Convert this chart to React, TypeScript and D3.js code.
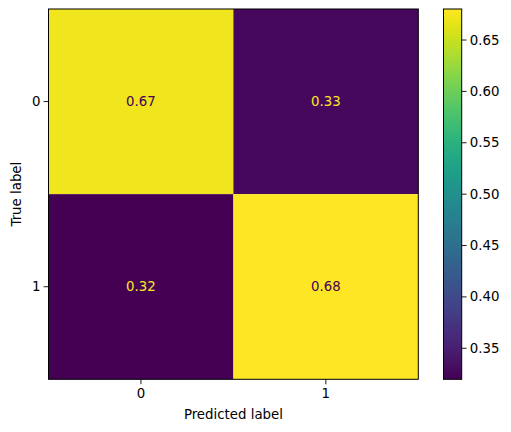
import React from "react";
import * as d3 from "d3";

const classes = ["0", "1"];
const row0 = [0.672, 0.328];
const row1 = [0.3198, 0.6802];
const matrix = [row0, row1];
const cbTicks = [0.35, 0.4, 0.45, 0.5, 0.55, 0.6, 0.65];
const xLabel = "Predicted label";
const yLabel = "True label";

export default function App() {
  const W = 511, H = 432;
  const left = 48.5, right = 418.3, top = 9, bottom = 379.3;
  const cbL = 443.5, cbR = 461.7;
  const all = matrix.flat();
  const vmin = d3.min(all)!;
  const vmax = d3.max(all)!;
  const x = d3.scaleBand().domain(classes).range([left, right]);
  const y = d3.scaleBand().domain(classes).range([top, bottom]);
  const color = (v: number) => d3.interpolateViridis((v - vmin) / (vmax - vmin));
  const cbY = d3.scaleLinear().domain([vmin, vmax]).range([bottom, top]);
  const font = "DejaVu Sans";
  const fs = 13.33;
  const steps = d3.range(0, 101);
  const thr = (vmin + vmax) / 2;
  return (
    <svg width={W} height={H} style={{ position: "absolute", left: 0, top: 0 }} fontFamily={font}>
      <defs>
        <linearGradient id="cbg" x1="0" y1="1" x2="0" y2="0">
          {steps.map((s) => (
            <stop key={s} offset={`${s}%`} stopColor={d3.interpolateViridis(s / 100)} />
          ))}
        </linearGradient>
      </defs>
      <rect width={W} height={H} fill="white" />
      {matrix.map((row, i) =>
        row.map((v, j) => (
          <rect key={`${i}-${j}`} x={x(classes[j])!} y={y(classes[i])!} width={x.bandwidth()} height={y.bandwidth()} fill={color(v)} />
        ))
      )}
      {matrix.map((row, i) =>
        row.map((v, j) => (
          <text key={`t${i}-${j}`} x={x(classes[j])! + x.bandwidth() / 2} y={y(classes[i])! + y.bandwidth() / 2} textAnchor="middle" dominantBaseline="central" fontSize={fs} fill={v < thr ? color(vmax) : color(vmin)}>
            {d3.format(".2f")(v)}
          </text>
        ))
      )}
      <rect x={left} y={top} width={right - left} height={bottom - top} fill="none" stroke="black" strokeWidth={1} />
      {classes.map((c) => (
        <g key={`x${c}`}>
          <line x1={x(c)! + x.bandwidth() / 2} x2={x(c)! + x.bandwidth() / 2} y1={bottom} y2={bottom + 4.9} stroke="black" strokeWidth={0.9} />
          <text x={x(c)! + x.bandwidth() / 2} y={bottom + 9} dominantBaseline="hanging" textAnchor="middle" fontSize={fs} fill="black">{c}</text>
        </g>
      ))}
      {classes.map((c) => (
        <g key={`y${c}`}>
          <line x1={left - 4.9} x2={left} y1={y(c)! + y.bandwidth() / 2} y2={y(c)! + y.bandwidth() / 2} stroke="black" strokeWidth={0.9} />
          <text x={left - 8} y={y(c)! + y.bandwidth() / 2} dominantBaseline="central" textAnchor="end" fontSize={fs} fill="black">{c}</text>
        </g>
      ))}
      <text x={(left + right) / 2} y={419} textAnchor="middle" fontSize={fs} fill="black">{xLabel}</text>
      <text transform={`translate(20.5,${(top + bottom) / 2}) rotate(-90)`} textAnchor="middle" fontSize={fs} fill="black">{yLabel}</text>
      <rect x={cbL} y={top} width={cbR - cbL} height={bottom - top} fill="url(#cbg)" />
      <rect x={cbL} y={top} width={cbR - cbL} height={bottom - top} fill="none" stroke="black" strokeWidth={1} />
      {cbTicks.map((t) => (
        <g key={`cb${t}`}>
          <line x1={cbR} x2={cbR + 4.9} y1={cbY(t)} y2={cbY(t)} stroke="black" strokeWidth={0.9} />
          <text x={cbR + 8} y={cbY(t)} dominantBaseline="central" fontSize={fs} fill="black">{d3.format(".2f")(t)}</text>
        </g>
      ))}
    </svg>
  );
}
